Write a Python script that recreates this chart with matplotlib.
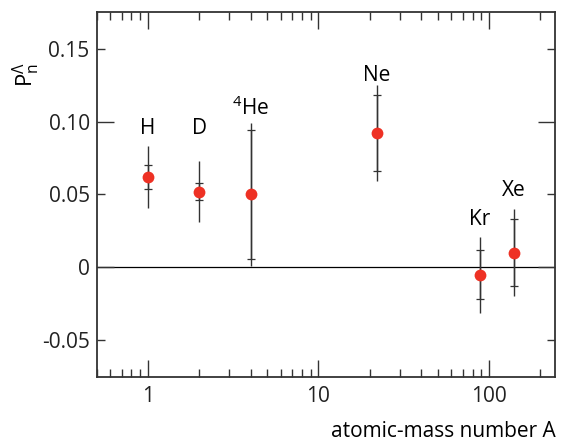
import numpy as np
import matplotlib.pyplot as plt
from matplotlib.ticker import MultipleLocator, FixedLocator, FuncFormatter, LogLocator, NullFormatter

plt.rcParams['font.family'] = ['Open Sans', 'DejaVu Sans']
plt.rcParams['mathtext.fontset'] = 'custom'
plt.rcParams['mathtext.rm'] = 'Open Sans'
plt.rcParams['mathtext.it'] = 'Open Sans'

labels = ["H", "D", "$^4$He", "Ne", "Kr", "Xe"]
mass = [1.0, 2.0, 4.0, 22.0, 88.0, 140.0]
pol = [0.062, 0.052, 0.050, 0.092, -0.005, 0.010]
err_stat = [0.008, 0.006, 0.044, 0.026, 0.017, 0.023]
err_tot = [0.021, 0.021, 0.049, 0.033, 0.026, 0.030]
label_y = [0.095, 0.095, 0.109, 0.132, 0.033, 0.053]

fig = plt.figure(figsize=(5.65, 4.41), dpi=100)
ax = fig.add_axes([0.171, 0.146, 0.812, 0.826])

ax.axhline(0, color='black', lw=0.9, zorder=1)

ax.errorbar(mass, pol, yerr=err_tot, fmt='none', ecolor='#333333', elinewidth=1.0, zorder=2)
ax.errorbar(mass, pol, yerr=err_stat, fmt='none', ecolor='#333333', elinewidth=1.0,
            capsize=3, capthick=0.9, zorder=2)
ax.plot(mass, pol, 'o', color='#ee3124', markersize=8.5, markeredgewidth=0, zorder=3)

for m, t, yl in zip(mass, labels, label_y):
    ax.text(m, yl, t, ha='center', va='center', fontsize=15)

ax.set_xscale('log')
ax.set_xlim(0.5, 245)
ax.set_ylim(-0.075, 0.175)

ax.xaxis.set_major_locator(FixedLocator([1, 10, 100]))
ax.xaxis.set_major_formatter(FuncFormatter(lambda v, p: '%d' % v))
ax.xaxis.set_minor_locator(LogLocator(base=10, subs=np.arange(2, 10)))
ax.xaxis.set_minor_formatter(NullFormatter())

ax.yaxis.set_major_locator(MultipleLocator(0.1))
ax.yaxis.set_minor_locator(MultipleLocator(0.05))


def yfmt(v, p):
    if abs(v) < 1e-9:
        return '0'
    return '%.2f' % v


ax.yaxis.set_major_formatter(FuncFormatter(yfmt))
ax.yaxis.set_minor_formatter(FuncFormatter(yfmt))

ax.tick_params(which='both', direction='in', top=True, right=True, colors='#333333',
               labelcolor='#222222', labelsize=15, width=1.0)
ax.tick_params(which='major', length=12, pad=5)
ax.tick_params(which='minor', length=6, pad=5)
ax.tick_params(axis='x', which='major', pad=7)

for s in ax.spines.values():
    s.set_color('#333333')
    s.set_linewidth(1.3)

ax.set_ylabel(r'P$_{\mathregular{n}}^{\Lambda}$', fontsize=16, rotation=90)
ax.yaxis.set_label_coords(-0.12, 0.83)
ax.set_xlabel('atomic-mass number A', fontsize=15, loc='right', labelpad=10)

fig.savefig('out.png', dpi=100)
